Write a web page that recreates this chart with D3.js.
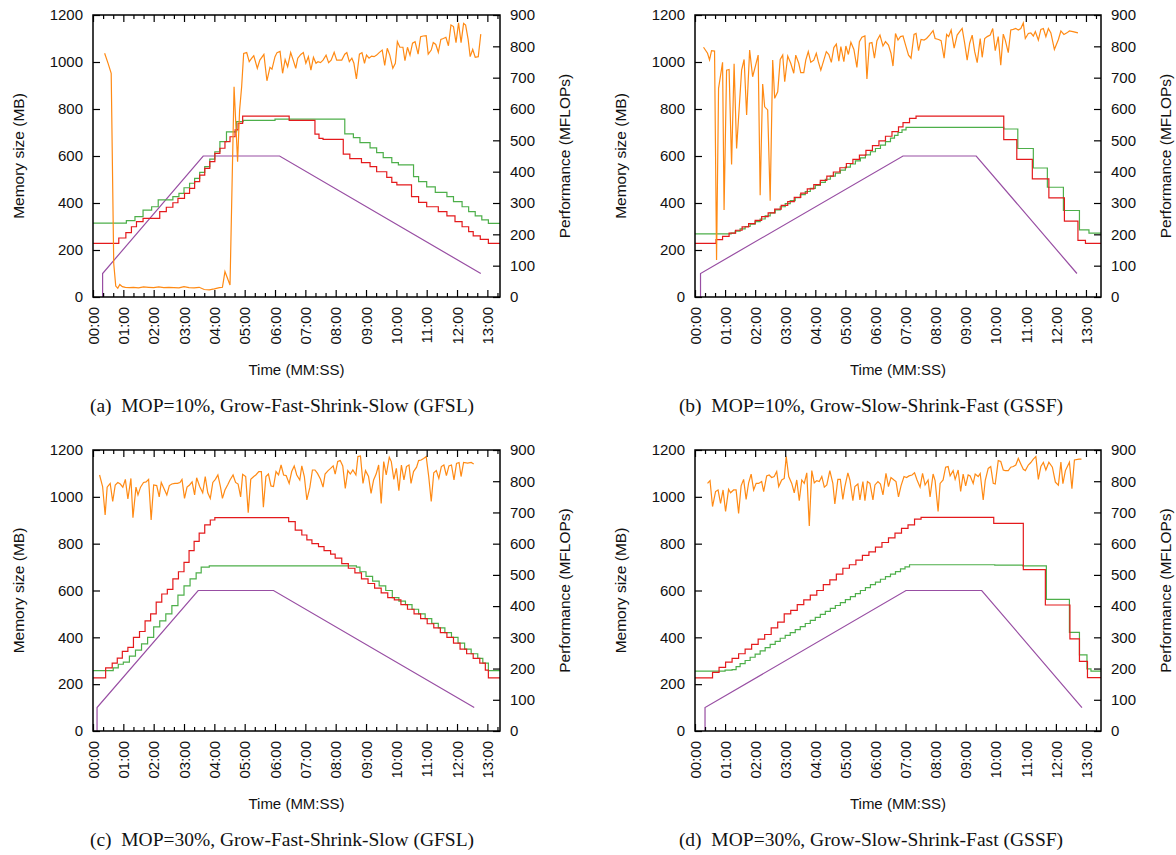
<!DOCTYPE html>
<html>
<head>
<meta charset="utf-8">
<script src="https://cdn.jsdelivr.net/npm/d3@7"></script>
<style>
  body { margin: 0; background: #fff; }
  svg text { font-family: "Liberation Sans", Arial, sans-serif; fill: #111; }
  svg text.caption { font-family: "Liberation Serif", "Times New Roman", serif; }
</style>
</head>
<body>
<div class="chart"></div>
<script>
// Memory size vs time, four runs (2x2 grid)
// each series is [seconds, value]

var memTicks = [0, 200, 400, 600, 800, 1000, 1200];
var perfTicks = [0, 100, 200, 300, 400, 500, 600, 700, 800, 900];
var timeTicks = [0, 60, 120, 180, 240, 300, 360, 420, 480, 540, 600, 660, 720, 780];
var timeLabels = ["00:00", "01:00", "02:00", "03:00", "04:00", "05:00", "06:00",
                  "07:00", "08:00", "09:00", "10:00", "11:00", "12:00", "13:00"];
var captions = [
  "(a)  MOP=10%, Grow-Fast-Shrink-Slow (GFSL)",
  "(b)  MOP=10%, Grow-Slow-Shrink-Fast (GSSF)",
  "(c)  MOP=30%, Grow-Fast-Shrink-Slow (GFSL)",
  "(d)  MOP=30%, Grow-Slow-Shrink-Fast (GSSF)"
];

// ---- (a) ----
var aPurple = [[19,0],[19,100],[218,600],[369,600],[767,100]];
var aRed = [[0,228],[51,251],[65,274],[76,299],[86,321],[99,335],[132,363],[145,382],[158,401],[168,420],[181,441],[191,462],[201,491],[211,519],[221,547],[231,576],[241,611],[251,633],[261,661],[271,682],[281,711],[287,739],[296,770],[388,752],[439,693],[447,675],[455,671],[495,608],[508,589],[531,572],[548,555],[561,533],[581,509],[591,488],[601,477],[630,427],[644,403],[660,384],[683,363],[700,345],[716,321],[730,299],[743,278],[752,260],[766,245],[782,228],[805,228]];
var aGreen = [[0,314],[66,325],[83,342],[99,370],[116,384],[129,413],[158,427],[170,441],[180,465],[191,484],[201,505],[211,530],[221,555],[231,587],[241,618],[251,661],[264,703],[284,746],[297,752],[360,757],[498,694],[515,678],[528,657],[548,635],[561,614],[574,593],[591,572],[604,562],[634,512],[644,491],[660,469],[677,445],[700,427],[713,406],[730,384],[743,363],[756,345],[769,328],[782,313],[805,313]];
var aPerf = [[23,778],[30,745],[36,714],[41,107],[45,35],[49,28],[53,40],[58,33],[64,31],[72,30],[80,31],[90,29],[100,32],[110,31],[120,30],[130,32],[140,30],[150,31],[160,30],[170,29],[180,33],[190,30],[200,29],[210,31],[220,24],[230,23],[240,26],[250,30],[256,31],[261,81],[266,60],[271,38],[279,671],[286,432],[290,597],[294,671],[298,777],[304,780],[309,751],[314,762],[318,770],[325,730],[330,756],[338,774],[344,690],[350,733],[354,727],[360,767],[364,780],[370,784],[375,714],[380,758],[385,735],[391,780],[396,756],[401,730],[405,762],[411,774],[416,780],[421,746],[426,767],[431,724],[436,765],[441,746],[445,751],[450,748],[455,756],[461,772],[466,748],[471,756],[477,781],[482,756],[487,756],[492,756],[498,775],[502,780],[507,751],[512,762],[516,746],[521,696],[527,775],[532,780],[537,746],[541,772],[546,762],[551,769],[556,767],[561,772],[566,780],[572,788],[577,739],[582,794],[587,772],[593,730],[598,746],[602,815],[607,797],[613,797],[617,754],[622,797],[627,772],[632,810],[637,815],[643,775],[648,831],[653,833],[659,834],[663,775],[669,788],[673,812],[678,806],[683,781],[688,822],[693,825],[698,829],[703,802],[708,868],[713,863],[718,812],[723,875],[728,812],[733,873],[737,868],[742,822],[746,767],[751,790],[756,765],[762,767],[767,839]];

// ---- (b) ----
var bPurple = [[11,0],[11,100],[415,600],[561,600],[762,100]];
var bRed = [[0,228],[42,244],[55,258],[68,272],[81,284],[94,298],[107,312],[120,326],[133,342],[146,358],[159,374],[172,390],[185,406],[198,424],[211,442],[224,460],[237,478],[250,496],[263,514],[276,532],[289,550],[302,568],[315,586],[328,604],[341,624],[354,644],[367,664],[380,684],[393,704],[406,724],[415,742],[428,760],[441,770],[616,670],[642,586],[673,503],[706,422],[737,323],[764,241],[779,228],[810,228]];
var bGreen = [[0,269],[72,272],[80,280],[90,290],[100,300],[110,310],[120,321],[130,332],[140,345],[150,358],[160,371],[170,384],[180,397],[190,410],[200,423],[210,436],[220,449],[230,462],[240,475],[250,488],[260,501],[270,514],[280,527],[290,540],[300,553],[310,566],[320,579],[330,592],[340,605],[350,618],[360,632],[370,646],[380,661],[390,676],[398,688],[405,700],[413,711],[421,722],[616,715],[644,632],[675,549],[703,467],[735,368],[767,286],[786,272],[810,272]];
var bPerf = [[17,797],[25,778],[29,757],[33,786],[39,785],[43,118],[47,666],[55,749],[58,278],[63,724],[68,726],[73,423],[78,744],[83,474],[93,724],[98,758],[103,581],[109,788],[115,703],[121,740],[126,772],[130,325],[135,680],[139,607],[145,597],[150,307],[155,756],[159,634],[165,655],[170,758],[175,772],[179,687],[185,769],[191,746],[197,714],[201,772],[207,746],[211,716],[217,716],[221,756],[226,783],[231,749],[237,756],[242,778],[246,751],[251,724],[257,756],[262,783],[267,774],[272,749],[277,796],[282,807],[287,753],[291,799],[297,751],[301,801],[306,774],[311,813],[317,790],[323,733],[328,815],[333,829],[339,833],[343,696],[348,810],[353,812],[358,762],[363,818],[369,836],[375,801],[380,815],[386,804],[391,778],[395,737],[400,841],[405,820],[410,831],[415,833],[421,799],[426,772],[431,762],[437,838],[441,841],[446,786],[451,822],[457,820],[462,825],[468,836],[475,850],[479,825],[486,822],[491,818],[497,762],[502,838],[506,831],[511,852],[517,794],[523,836],[528,847],[533,857],[538,810],[543,756],[548,810],[553,836],[558,783],[563,748],[569,825],[573,765],[578,825],[583,831],[589,836],[594,857],[599,786],[605,831],[610,740],[615,839],[619,820],[625,780],[630,852],[635,854],[640,857],[645,852],[650,857],[655,875],[659,825],[665,841],[670,843],[675,833],[679,847],[685,820],[690,854],[695,857],[700,831],[705,857],[710,843],[717,790],[725,822],[730,849],[736,838],[742,843],[747,849],[754,847],[764,843]];

// ---- (c) ----
var cPurple = [[8,0],[8,100],[208,600],[357,600],[754,100]];
var cRed = [[0,227],[25,270],[38,290],[48,311],[58,340],[69,357],[80,400],[92,425],[103,470],[114,500],[125,550],[136,585],[147,605],[158,650],[169,680],[180,720],[190,770],[200,810],[210,845],[221,880],[232,901],[241,911],[387,894],[400,858],[413,837],[423,816],[433,800],[446,787],[457,770],[470,755],[479,738],[492,715],[505,695],[518,675],[531,650],[544,630],[557,610],[570,590],[583,570],[596,560],[609,540],[622,520],[635,500],[648,480],[661,458],[674,440],[687,420],[700,400],[713,375],[726,350],[739,330],[752,310],[765,290],[776,260],[782,227],[805,227]];
var cGreen = [[0,258],[40,270],[50,285],[60,294],[72,320],[84,345],[96,372],[108,400],[120,445],[132,470],[144,500],[156,535],[168,580],[180,620],[192,650],[204,675],[214,700],[230,705],[521,700],[528,680],[540,660],[553,640],[566,620],[579,600],[592,570],[605,555],[618,540],[631,520],[644,500],[657,480],[670,460],[683,440],[696,420],[709,400],[722,375],[735,350],[748,330],[761,310],[771,290],[782,258],[805,258]];
var cPerf = [[13,820],[19,783],[24,692],[28,781],[34,793],[39,735],[44,788],[49,796],[54,791],[59,781],[64,806],[69,743],[75,809],[79,683],[85,781],[89,756],[94,781],[100,796],[105,798],[110,806],[115,676],[120,788],[126,786],[131,750],[135,796],[141,774],[146,756],[151,786],[156,791],[162,793],[167,793],[172,796],[176,806],[181,745],[186,781],[191,788],[196,798],[201,756],[205,811],[211,783],[217,763],[222,815],[227,763],[232,745],[237,796],[242,806],[247,820],[252,783],[256,745],[261,772],[267,790],[271,804],[277,820],[282,796],[287,791],[292,750],[296,822],[302,815],[307,699],[312,806],[318,815],[322,820],[328,831],[333,831],[337,717],[342,815],[347,823],[352,785],[357,783],[362,831],[367,820],[372,852],[377,820],[382,818],[388,793],[393,831],[398,849],[403,820],[409,804],[413,849],[418,815],[423,740],[429,781],[434,836],[439,836],[444,825],[450,806],[455,781],[459,823],[465,834],[470,841],[475,849],[479,823],[484,863],[489,866],[494,849],[499,777],[504,834],[509,823],[514,836],[520,820],[524,879],[529,881],[534,793],[539,834],[545,815],[550,761],[555,804],[560,823],[565,852],[570,729],[575,863],[580,820],[586,877],[590,863],[595,806],[600,841],[605,770],[610,852],[615,804],[620,847],[625,852],[629,793],[634,831],[640,845],[644,866],[649,868],[654,873],[659,879],[664,815],[669,735],[674,827],[679,834],[684,809],[689,847],[694,852],[699,818],[704,849],[709,852],[714,804],[719,857],[724,860],[728,815],[733,860],[741,858],[748,860],[753,855]];

// ---- (d) ----
var dPurple = [[20,0],[20,100],[421,600],[572,600],[772,100]];
var dRed = [[0,227],[35,250],[48,272],[61,294],[74,310],[87,330],[100,350],[113,370],[126,392],[139,412],[152,440],[165,465],[178,500],[191,515],[204,540],[217,560],[230,580],[243,600],[256,625],[269,645],[282,670],[295,695],[308,710],[321,730],[334,750],[347,765],[360,785],[373,805],[386,825],[399,845],[412,865],[425,880],[438,905],[451,912],[596,887],[655,689],[699,538],[748,393],[767,297],[783,228],[810,228]];
var dGreen = [[0,256],[60,260],[74,262],[82,275],[90,288],[100,301],[110,315],[120,328],[130,342],[140,356],[150,370],[160,383],[170,396],[180,408],[190,420],[200,433],[210,446],[220,459],[230,472],[240,485],[250,498],[260,511],[270,524],[280,536],[290,548],[300,561],[310,574],[320,587],[330,600],[340,612],[350,625],[360,636],[370,648],[380,659],[390,670],[400,681],[410,692],[419,701],[428,710],[598,708],[654,705],[701,562],[747,421],[767,325],[782,265],[790,256],[810,256]];
var dPerf = [[25,793],[30,802],[35,719],[41,767],[46,772],[51,729],[56,772],[61,703],[67,774],[71,763],[77,772],[82,772],[87,697],[92,785],[97,806],[102,742],[107,795],[112,823],[117,772],[122,793],[127,793],[133,799],[137,767],[143,817],[148,820],[153,812],[158,815],[163,831],[167,783],[173,804],[178,809],[182,879],[187,815],[193,793],[198,763],[203,804],[208,738],[213,804],[218,793],[223,827],[228,657],[233,834],[238,795],[243,802],[248,799],[253,815],[258,781],[263,788],[269,834],[275,793],[279,727],[285,806],[290,806],[295,742],[299,783],[305,827],[309,804],[315,738],[319,783],[325,791],[329,740],[335,799],[339,738],[344,799],[349,793],[355,740],[359,788],[365,799],[370,791],[375,756],[381,825],[386,783],[391,812],[397,804],[401,799],[406,750],[411,785],[417,815],[422,812],[427,817],[433,820],[438,827],[443,804],[449,781],[454,825],[459,788],[465,804],[469,750],[475,823],[479,802],[485,703],[489,793],[495,804],[500,845],[505,847],[509,817],[515,834],[519,806],[525,836],[530,767],[535,823],[540,785],[545,820],[549,817],[555,793],[559,823],[565,815],[569,825],[575,740],[579,802],[585,841],[590,847],[595,793],[599,791],[605,866],[610,863],[615,836],[619,834],[625,834],[630,845],[635,847],[640,852],[645,873],[650,855],[655,838],[659,834],[665,852],[670,860],[675,871],[680,879],[685,806],[690,847],[695,860],[700,836],[706,861],[713,845],[719,797],[725,787],[730,861],[734,792],[739,834],[747,861],[752,776],[757,868],[766,871],[771,871]];

var colors = { red: "#e41a1c", green: "#4daf4a", purple: "#984ea3", orange: "#ff8a14" };

var panels = [
  { left: 93,  right: 500,  top: 15,  bottom: 297, tMax: 805, capX: 282, red: aRed, green: aGreen, purple: aPurple, perf: aPerf, caption: captions[0] },
  { left: 695, right: 1101, top: 15,  bottom: 297, tMax: 810, capX: 871, red: bRed, green: bGreen, purple: bPurple, perf: bPerf, caption: captions[1] },
  { left: 93,  right: 500,  top: 450, bottom: 731, tMax: 805, capX: 282, red: cRed, green: cGreen, purple: cPurple, perf: cPerf, caption: captions[2] },
  { left: 695, right: 1101, top: 450, bottom: 731, tMax: 810, capX: 871, red: dRed, green: dGreen, purple: dPurple, perf: dPerf, caption: captions[3] }
];

var svg = d3.select('.chart')
  .append('svg')
  .attr('width', 1176)
  .attr('height', 855);

panels.forEach(function(p, i) {
  var x = d3.scaleLinear().domain([0, p.tMax]).range([p.left, p.right]);
  var y = d3.scaleLinear().domain([0, 1200]).range([p.bottom, p.top]);
  var y2 = d3.scaleLinear().domain([0, 900]).range([p.bottom, p.top]);

  var g = svg.append("g");

  var clipId = "clip" + i;
  g.append("clipPath").attr("id", clipId)
    .append("rect")
    .attr("x", p.left).attr("y", p.top)
    .attr("width", p.right - p.left).attr("height", p.bottom - p.top);

  // lines
  var stepLine = d3.line().x(d => x(d[0])).y(d => y(d[1])).curve(d3.curveStepAfter);
  var memLine = d3.line().x(d => x(d[0])).y(d => y(d[1]));
  var perfLine = d3.line().x(d => x(d[0])).y(d => y2(d[1]));

  var lines = g.append("g").attr("clip-path", "url(#" + clipId + ")")
    .attr("fill", "none").attr("stroke-width", 1.2);
  lines.append("path").attr("d", memLine(p.purple)).attr("stroke", colors.purple);
  lines.append("path").attr("d", stepLine(p.green)).attr("stroke", colors.green);
  lines.append("path").attr("d", stepLine(p.red)).attr("stroke", colors.red);
  lines.append("path").attr("d", perfLine(p.perf)).attr("stroke", colors.orange);

  // minor time ticks (every 20 s)
  var minor = d3.range(0, p.tMax, 20).filter(t => t % 60 !== 0);

  // bottom axis with labels
  var xAxis = g.append("g")
    .attr("transform", `translate(0, ${p.bottom})`)
    .call(d3.axisBottom(x).tickValues(timeTicks).tickSize(-7).tickSizeOuter(0)
      .tickFormat((d, k) => timeLabels[k]));
  xAxis.selectAll("text")
    .attr("transform", "rotate(-90)")
    .attr("text-anchor", "end")
    .attr("x", -10).attr("y", 0).attr("dy", "0.35em");

  g.append("g")
    .attr("transform", `translate(0, ${p.bottom})`)
    .call(d3.axisBottom(x).tickValues(minor).tickSize(-4).tickSizeOuter(0).tickFormat(""));

  // top mirror
  g.append("g")
    .attr("transform", `translate(0, ${p.top})`)
    .call(d3.axisTop(x).tickValues(timeTicks).tickSize(-7).tickSizeOuter(0).tickFormat(""));
  g.append("g")
    .attr("transform", `translate(0, ${p.top})`)
    .call(d3.axisTop(x).tickValues(minor).tickSize(-4).tickSizeOuter(0).tickFormat(""));

  // left memory axis
  g.append("g")
    .attr("transform", `translate(${p.left}, 0)`)
    .call(d3.axisLeft(y).tickValues(memTicks).tickSize(-7).tickSizeOuter(0)
      .tickPadding(10).tickFormat(d3.format("d")));

  // right performance axis
  g.append("g")
    .attr("transform", `translate(${p.right}, 0)`)
    .call(d3.axisRight(y2).tickValues(perfTicks).tickSize(-7).tickSizeOuter(0)
      .tickPadding(10).tickFormat(d3.format("d")));

  g.selectAll(".domain").remove();
  g.selectAll(".tick line").attr("stroke", "#000").attr("stroke-width", 1.2);
  g.selectAll(".tick text").style("font-size", "15px").attr("fill", "#111");

  // frame
  g.append("rect")
    .attr("x", p.left).attr("y", p.top)
    .attr("width", p.right - p.left).attr("height", p.bottom - p.top)
    .attr("fill", "none").attr("stroke", "#000").attr("stroke-width", 1.5);

  // axis titles
  var midY = (p.top + p.bottom) / 2;
  g.append("text")
    .attr("transform", `translate(${p.left - 74}, ${midY}) rotate(-90)`)
    .attr("text-anchor", "middle").attr("dy", "0.35em")
    .style("font-size", "15.5px")
    .text("Memory size (MB)");

  g.append("text")
    .attr("transform", `translate(${p.right + 65}, ${midY}) rotate(-90)`)
    .attr("text-anchor", "middle").attr("dy", "0.35em")
    .style("font-size", "15.5px")
    .text("Performance (MFLOPs)");

  g.append("text")
    .attr("x", (p.left + p.right) / 2)
    .attr("y", p.bottom + 78)
    .attr("text-anchor", "middle")
    .style("font-size", "15px")
    .text("Time (MM:SS)");

  g.append("text")
    .attr("class", "caption")
    .attr("x", p.capX)
    .attr("y", p.bottom + 115)
    .attr("text-anchor", "middle")
    .style("font-size", "19.5px")
    .style("white-space", "pre")
    .text(p.caption);
});
</script>
</body>
</html>
